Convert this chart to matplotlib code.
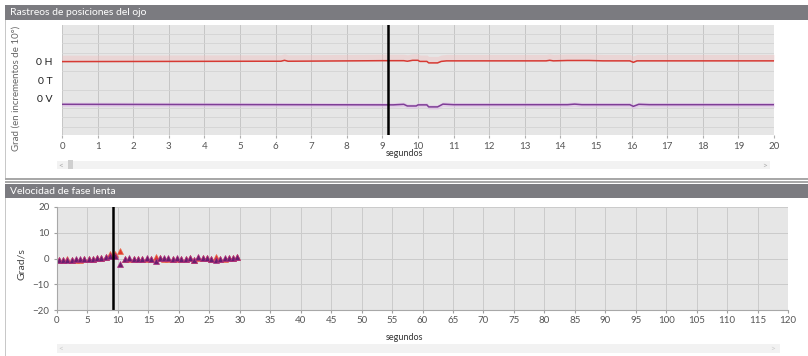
import matplotlib.pyplot as plt
from matplotlib.patches import Rectangle

plt.rcParams['font.family'] = ['Lato', 'DejaVu Sans']

# --- datos: rastreos de posición (grados, respecto al cero de cada canal) ---
h_t = [0, 3, 5.5, 6.15, 6.25, 6.35, 9.0, 9.6, 9.7, 9.85, 10.0, 10.05, 10.25, 10.3,
       10.55, 10.65, 10.8, 13.6, 13.7, 13.8, 14.2, 14.8, 15.2, 15.95, 16.05, 16.15, 20]
h_deg = [0.2, 0.3, 0.4, 0.4, 0.9, 0.4, 0.7, 0.7, 0.4, 0.9, 0.9, 0.3, 0.3, -0.5,
         -0.5, 0.3, 0.6, 0.6, 0.9, 0.6, 0.8, 0.8, 0.6, 0.6, -0.2, 0.6, 0.6]

v_t = [0, 9.3, 9.6, 9.7, 9.95, 10.0, 10.25, 10.3, 10.55, 10.7, 11.0, 14.2, 14.4,
       14.6, 15.95, 16.05, 16.2, 16.5, 20]
v_deg = [-2.9, -3.2, -2.9, -3.8, -3.8, -3.2, -3.2, -4.3, -4.3, -2.8, -3.1, -3.1, -2.8,
         -3.1, -3.1, -4.0, -2.9, -3.1, -3.1]

cursor_t = 9.15
canales = ['0 H', '0 T', '0 V']
canal_pos = [2, 1, 0]

# --- datos: velocidad de fase lenta (grados/s) ---
vfl_t = [0.3, 1.0, 1.7, 2.4, 3.1, 3.8, 4.5, 5.2, 5.9, 6.6, 7.3, 8.0, 8.7, 9.6, 10.4,
         11.2, 11.9, 12.6, 13.3, 14.0, 14.7, 15.4, 16.2, 16.9, 17.6, 18.3, 19.0, 19.7,
         20.4, 21.1, 21.8, 22.5, 23.2, 23.9, 24.6, 25.3, 26.1, 26.8, 27.5, 28.2, 28.9, 29.6]
vfl_v = [-0.5, -0.6, -0.5, -0.4, -0.3, -0.3, -0.2, -0.1, 0.0, 0.2, 0.3, 0.5, 0.8, 1.0,
         -2.3, 0.0, 0.1, 0.0, 0.0, -0.1, 0.1, -0.2, -1.0, 0.2, 0.1, 0.1, 0.0, 0.1,
         0.0, 0.0, 0.2, -0.5, 0.4, 0.3, 0.2, 0.0, -0.7, 0.0, 0.1, 0.2, 0.3, 0.5]
vfl_h = [-0.6, -0.7, -0.1, -0.5, -0.4, -0.4, -0.3, -0.2, -0.1, 0.1, 0.2, 0.4, 1.6, 1.6,
         3.0, -0.1, 0.0, -0.1, -0.1, -0.2, 0.0, -0.3, 0.6, 0.1, 0.0, 0.0, -0.1, 0.0,
         -0.1, -0.1, 0.1, -0.6, 0.3, 0.2, 0.1, -0.1, 0.6, -0.1, 0.0, 0.1, 0.2, 0.4]

W, H = 808, 356
fig = plt.figure(figsize=(W / 100, H / 100), dpi=100)
fig.patch.set_facecolor('white')


def px_rect(x0, y0, x1, y1, **kw):
    # rectángulo en píxeles (origen arriba a la izquierda)
    fig.patches.append(Rectangle((x0 / W, 1 - y1 / H), (x1 - x0) / W, (y1 - y0) / H,
                                 transform=fig.transFigure, figure=fig, **kw))


def px_text(x, y, s, **kw):
    fig.text(x / W, 1 - y / H, s, **kw)


# marcos y cabeceras
px_rect(5, 5, 808, 20, color='#7b7b80', lw=0)
px_rect(5, 20, 6, 178, color='#c8c8c8', lw=0)
px_rect(5, 178, 808, 180, color='#a8a8a8', lw=0)
px_rect(5, 181, 808, 183, color='#a8a8a8', lw=0)
px_rect(5, 184, 808, 198, color='#7b7b80', lw=0)
px_rect(5, 198, 6, 356, color='#c8c8c8', lw=0)
px_text(10, 12.5, 'Rastreos de posiciones del ojo', color='white', fontsize=7.5, va='center')
px_text(10, 191.5, 'Velocidad de fase lenta', color='white', fontsize=7.5, va='center')

# barras de desplazamiento
px_rect(57, 161, 770, 169, color='#f2f2f2', lw=0)
px_rect(68, 160, 73, 169, color='#cfcfcf', lw=0)
px_text(61, 165, '<', color='#aaaaaa', fontsize=6, va='center', ha='center')
px_text(765, 165, '>', color='#aaaaaa', fontsize=6, va='center', ha='center')
px_rect(57, 344, 780, 353, color='#f2f2f2', lw=0)
px_text(61, 348.5, '<', color='#cccccc', fontsize=6, va='center', ha='center')
px_text(773, 348.5, '>', color='#cccccc', fontsize=6, va='center', ha='center')

# ---------- panel superior ----------
ax1 = fig.add_axes([62 / W, 1 - 135 / H, 712 / W, 110 / H])
ax1.set_facecolor('#e6e6e6')
ax1.set_xlim(0, 20)
ax1.set_ylim(-1.95, 4.0)
ax1.set_xticks(range(0, 21))
ax1.set_yticks([y / 2 for y in range(-3, 8)], minor=True)
ax1.set_yticks(canal_pos)
ax1.set_yticklabels(canales, fontsize=7.5, color='#222222')
ax1.tick_params(axis='y', which='both', length=0, pad=7)
ax1.tick_params(axis='x', length=2.5, color='#b0b0b0', labelsize=7, labelcolor='#555555', pad=2.5)
ax1.grid(axis='x', color='#c6c6c6', lw=0.7)
ax1.grid(axis='y', which='minor', color='#d4d4d4', lw=0.6)
for s in ax1.spines.values():
    s.set_visible(False)
ax1.set_axisbelow(True)

h_y = [canal_pos[0] + d / 10 for d in h_deg]
v_y = [canal_pos[2] + d / 10 for d in v_deg]
ax1.fill_between(h_t, h_y, [y + 0.35 for y in h_y], color='#f4b8b8', alpha=0.35, lw=0)
ax1.fill_between(v_t, [y - 0.12 for y in v_y], [y + 0.12 for y in v_y], color='#e0b8e8', alpha=0.5, lw=0)
ax1.plot(h_t, h_y, color='#d63a33', lw=1.1)
ax1.plot(v_t, v_y, color='#7e3d96', lw=1.1)
ax1.axvline(cursor_t, color='black', lw=1.8)
ax1.set_ylabel('Grad (en incrementos de 10°)', fontsize=7, color='#666666')
ax1.yaxis.set_label_coords(-0.058, 0.42)
ax1.set_xlabel('segundos', fontsize=6.5, color='#333333')
ax1.xaxis.set_label_coords((404 - 62) / 712, -0.13)

# ---------- panel inferior ----------
ax2 = fig.add_axes([57 / W, 1 - 310 / H, 731 / W, 103 / H])
ax2.set_facecolor('#e6e6e6')
ax2.set_xlim(0, 120)
ax2.set_ylim(-20, 20)
ax2.set_xticks(range(0, 121, 5))
ax2.set_yticks([-20, -10, 0, 10, 20])
ax2.tick_params(axis='both', length=2, color='#a0a0a0', labelsize=7, labelcolor='#555555')
ax2.tick_params(axis='x', pad=2.5)
ax2.grid(color='#cbcbcb', lw=0.7)
for k in ['top', 'right']:
    ax2.spines[k].set_visible(False)
for k in ['left', 'bottom']:
    ax2.spines[k].set_color('#a8a8a8')
    ax2.spines[k].set_linewidth(0.8)
ax2.set_axisbelow(True)

ax2.plot(vfl_t, vfl_h, ls='none', marker='^', ms=4.4, color='#e03a2c', mec='#e86a50', mew=0.5)
ax2.plot(vfl_t, vfl_v, ls='none', marker='^', ms=4.4, color='#6a1f6e', mec='#b0307f', mew=0.5)
ax2.axvline(cursor_t, color='black', lw=1.8)
ax2.set_ylabel('Grad/s', fontsize=7.5, color='#444444')
ax2.yaxis.set_label_coords(-0.043, 0.45)
ax2.set_xlabel('segundos', fontsize=6.5, color='#333333')
ax2.xaxis.set_label_coords((404 - 57) / 731, -0.22)

fig.savefig('out.png', dpi=100)
